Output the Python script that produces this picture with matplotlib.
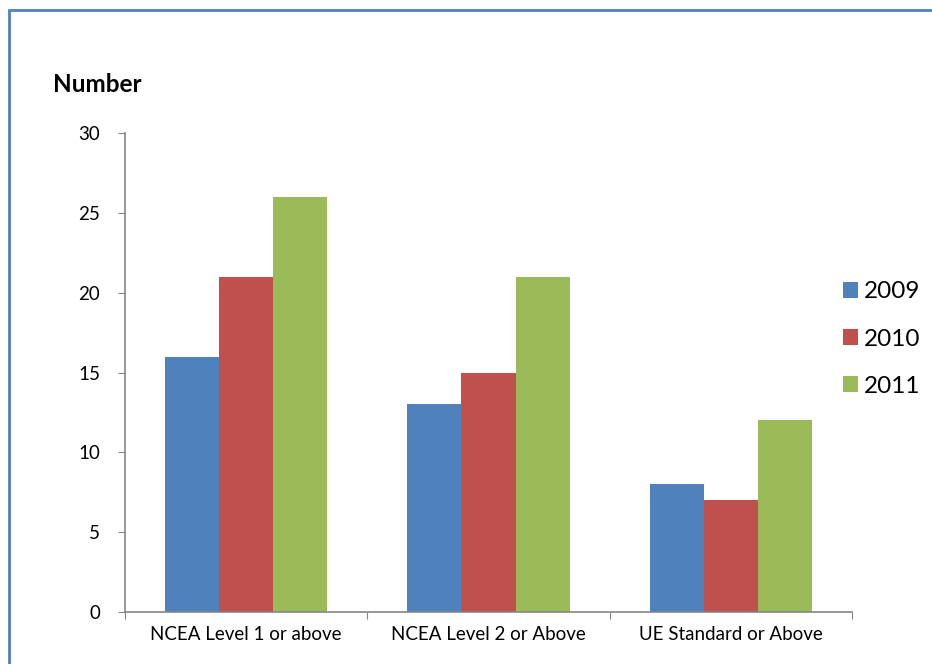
import numpy as np
import matplotlib
matplotlib.use("Agg")
import matplotlib.pyplot as plt
from matplotlib.patches import Rectangle

# Chart data
categories = ["NCEA Level 1 or above", "NCEA Level 2 or Above", "UE Standard or Above"]
years = ["2009", "2010", "2011"]
values_2009 = [16, 13, 8]
values_2010 = [21, 15, 7]
values_2011 = [26, 21, 12]
colors = ["#4F81BD", "#C0504D", "#9BBB59"]
yticks = [0, 5, 10, 15, 20, 25, 30]

plt.rcParams['font.family'] = ['Lato', 'DejaVu Sans']

fig = plt.figure(figsize=(9.32, 6.64), dpi=100)
ax = fig.add_axes([0.1341, 0.0783, 0.7801, 0.7214])

x = np.arange(len(categories))
width = 0.223
series = [values_2009, values_2010, values_2011]
for i, (vals, lab, col) in enumerate(zip(series, years, colors)):
    ax.bar(x + (i - 1) * width, vals, width=width, color=col, label=lab, zorder=2)

ax.set_xlim(-0.5, len(categories) - 0.5)
ax.set_ylim(0, 30)
ax.set_yticks(yticks)
ax.set_yticklabels([str(t) for t in yticks], fontsize=13.5)

# category boundary ticks, labels centred between them
ax.set_xticks(np.arange(len(categories) + 1) - 0.5)
ax.set_xticklabels([])
ax.set_xticks(x, minor=True)
ax.set_xticklabels(categories, minor=True, fontsize=13.5)
ax.tick_params(axis='x', which='minor', length=0, pad=10)
ax.tick_params(axis='x', which='major', length=5, color='#868686', direction='out')
ax.tick_params(axis='y', length=5, color='#868686', direction='out', pad=13)

for s in ['top', 'right']:
    ax.spines[s].set_visible(False)
for s in ['left', 'bottom']:
    ax.spines[s].set_color('#868686')
    ax.spines[s].set_linewidth(1.2)

fig.text(53 / 932, 1 - 85 / 664, "Number", fontsize=17.5, fontweight='bold', va='center', ha='left')

leg = ax.legend(loc='center left', bbox_to_anchor=(833 / 932, 1 - 339 / 664),
                bbox_transform=fig.transFigure, frameon=False, fontsize=17.5,
                handlelength=0.62, handleheight=0.62, handletextpad=0.25,
                labelspacing=1.08, borderaxespad=0)

# outer border
fig.patches.append(Rectangle((9 / 932, -0.05), 1.1, 1 - 10 / 664 + 0.05,
                             transform=fig.transFigure, fill=False,
                             edgecolor='#4F81BD', linewidth=2, clip_on=False))

fig.savefig("out.png", dpi=100)
